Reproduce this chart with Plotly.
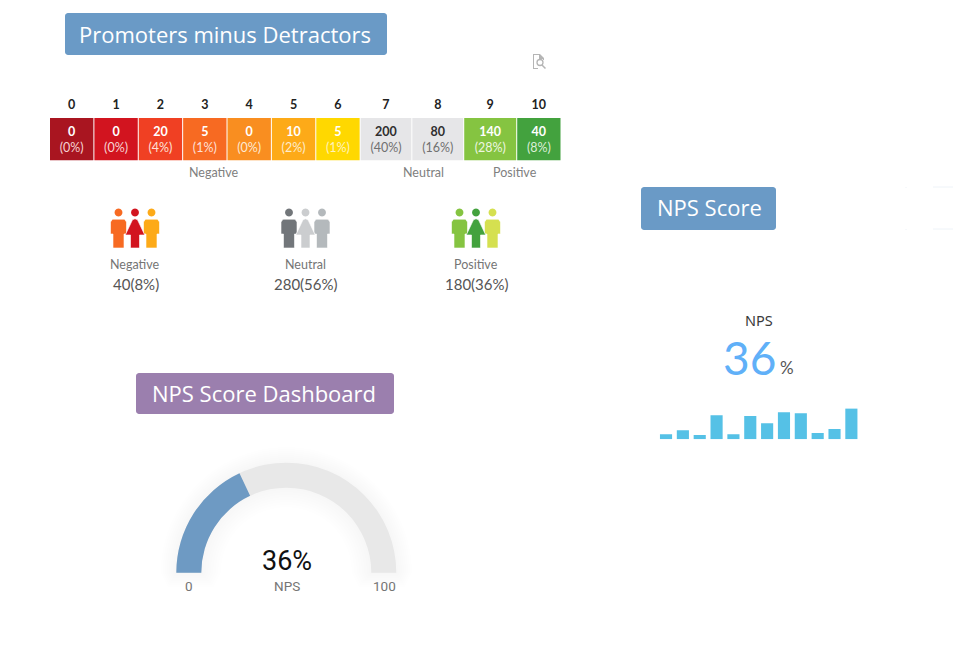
import math
import plotly.graph_objects as go

W, H = 953, 660

# ---- data ----
scores = ["0", "1", "2", "3", "4", "5", "6", "7", "8", "9", "10"]
counts = [0, 0, 20, 5, 0, 10, 5, 200, 80, 140, 40]
shares = [0, 0, 4, 1, 0, 2, 1, 40, 16, 28, 8]
groups = ["Negative", "Neutral", "Positive"]
group_counts = [40, 280, 180]
group_shares = [8, 56, 36]
nps_value = 36
gauge_range = [0, 100]
spark_values = [5, 9, 4.3, 24, 5, 23.3, 16, 27, 26, 6.3, 10.3, 30.7]

# ---- style / layout ----
cell_colors = ["#a91520", "#d2141f", "#f04023", "#f76a22", "#f98e20", "#fdaa18",
               "#ffd800", "#e6e6e8", "#e6e6e8", "#85c441", "#43a23e"]
cell_widths = [44.3, 44.3, 44.3, 44.3, 44.3, 44.3, 44.3, 51.6, 51.8, 52.9, 44.2]
head_colors = ["#ffffff"] * 7 + ["#2f2f2f"] * 2 + ["#ffffff"] * 2
pct_colors = ["#f6d3d3", "#f6d3d3", "#fde0d8", "#fde0d8", "#fde8d2", "#fdeccd",
              "#fff3bd", "#707070", "#707070", "#edf6e0", "#dcefd8"]
TXT = "Lato"


def px(x):
    return x / W


def py(y):
    return 1 - y / H


def path(points):
    return "M " + " L ".join(f"{px(x):.5f},{py(y):.5f}" for x, y in points) + " Z"


def rrect(x0, y0, x1, y1, r=3):
    pts = []
    for cx, cy, a0 in [(x1 - r, y0 + r, -90), (x1 - r, y1 - r, 0), (x0 + r, y1 - r, 90), (x0 + r, y0 + r, 180)]:
        for k in range(5):
            a = math.radians(a0 + k * 22.5)
            pts.append((cx + r * math.cos(a), cy + r * math.sin(a)))
    return path(pts)


def circle(cx, cy, r):
    return path([(cx + r * math.cos(i * math.pi / 12), cy + r * math.sin(i * math.pi / 12)) for i in range(24)])


def man(cx):
    return path([(cx - 8, 222), (cx - 6, 219.2), (cx + 6, 219.2), (cx + 8, 222), (cx + 8, 234), (cx + 5.5, 234),
                 (cx + 5.5, 248), (cx - 5.5, 248), (cx - 5.5, 234), (cx - 8, 234)])


def woman(cx):
    return path([(cx, 218.8), (cx + 2.5, 219.8), (cx + 9.7, 235), (cx + 4.5, 235), (cx + 4.5, 248), (cx - 4.5, 248),
                 (cx - 4.5, 235), (cx - 9.7, 235), (cx - 2.5, 219.8)])


shapes = []


def add(p, fill, line=None, lw=0):
    shapes.append(dict(type="path", xref="paper", yref="paper", path=p, fillcolor=fill,
                       line=dict(color=line or "rgba(0,0,0,0)", width=lw), layer="above"))


annots = []


def text(x, y, s, size, color="#666666", font=TXT, anchor="center"):
    annots.append(dict(xref="paper", yref="paper", x=px(x), y=py(y), text=s, showarrow=False,
                       xanchor=anchor, yanchor="middle",
                       font=dict(size=size, color=color, family=font)))


# title boxes
add(rrect(65, 13, 387, 55), "#6a9ac6")
text(225, 34, "Promoters minus Detractors", 22, "#ffffff", "Open Sans")
add(rrect(641, 187, 776, 230), "#6a9ac6")
text(709, 207, "NPS Score", 22, "#ffffff", "Open Sans")
add(rrect(136, 373, 394, 414), "#9b7fae")
text(263.5, 393, "NPS Score Dashboard", 22, "#ffffff", "Open Sans")

# faint crop marks, top right
for x0, y0, x1, y1 in [(933, 187, 953, 187), (933, 229, 953, 229), (906, 187, 906, 188), (906, 229, 906, 230)]:
    shapes.append(dict(type="line", xref="paper", yref="paper", x0=px(x0), y0=py(y0), x1=px(x1), y1=py(y1),
                       line=dict(color="#eef3f8", width=1)))

# report icon
icon = "#b5b5b5"
add(path([(533, 54), (540, 54), (544, 58), (544, 60), (543, 60), (543, 59), (539, 59), (539, 55), (534, 55), (534, 68),
          (538, 68), (538, 69), (533, 69)]), icon)
shapes.append(dict(type="circle", xref="paper", yref="paper", x0=px(537), x1=px(543), y0=py(59.5), y1=py(65.5),
                   line=dict(color=icon, width=1.3), fillcolor="rgba(0,0,0,0)"))
shapes.append(dict(type="line", xref="paper", yref="paper", x0=px(542), x1=px(545.5), y0=py(65), y1=py(68.5),
                   line=dict(color=icon, width=1.5)))

# people icons
people = [
    (135, ["#f76a22", "#d2141f", "#fdaa18"]),
    (305.5, ["#72767a", "#cbcdcf", "#b4b9bc"]),
    (476, ["#85c441", "#43a23e", "#d5e050"]),
]
for (cx, cols), name, n, s in zip(people, groups, group_counts, group_shares):
    add(man(cx - 16.5), cols[0], "#ffffff", 0.6)
    add(man(cx + 16.5), cols[2], "#ffffff", 0.6)
    add(woman(cx), cols[1], "#ffffff", 0.6)
    add(circle(cx - 16.5, 212.5, 3.9), cols[0])
    add(circle(cx, 212.5, 3.9), cols[1])
    add(circle(cx + 16.5, 212.5, 3.9), cols[2])
    text(cx - 0.5, 264.5, name, 12.5, "#757575")
    text(cx + 0.5, 283.5, f"{n}({s}%)", 15, "#555555")

# strip captions
text(214, 172, "Negative", 12.5, "#808080")
text(423, 172, "Neutral", 12.5, "#808080")
text(515, 172, "Positive", 12.5, "#808080")

# spark captions
text(759, 320, "NPS", 14.5, "#3a3a3a", "Noto Sans")
text(749, 357.5, str(nps_value), 46, "#60b0f8", TXT)
text(787, 367.5, "%", 17, "#555555", TXT)

# gauge captions
text(286.5, 561, f"{nps_value}%", 27, "#111111", "Roboto")
text(286.5, 586, "NPS", 13.5, "#757575", "Roboto")
text(188.5, 586, str(gauge_range[0]), 13.5, "#757575", "Roboto")
text(384, 586, str(gauge_range[1]), 13.5, "#757575", "Roboto")

# soft glow under gauge
GX, GY, RO, RI = 286.3, 572.7, 110, 85


def ring(ro, ri, drop):
    n = 48
    o = [(GX - ro * math.cos(i * math.pi / n), GY - ro * math.sin(i * math.pi / n)) for i in range(n + 1)]
    inner = [(GX + ri * math.cos(i * math.pi / n), GY - ri * math.sin(i * math.pi / n)) for i in range(n + 1)]
    return path(o + [(GX + ro - drop / 2, GY + drop), (GX + ri + drop / 2, GY + drop)] + inner +
                [(GX - ri - drop / 2, GY + drop), (GX - ro + drop / 2, GY + drop)])


for k in range(1, 9):
    shapes.append(dict(type="path", xref="paper", yref="paper", path=ring(RO + k * 2, RI - k * 2.5, k * 1.8),
                       fillcolor="rgba(0,0,0,0.005)", line=dict(width=0), layer="below"))

fig = go.Figure()

# NPS strip
lefts = [sum(cell_widths[:i]) for i in range(len(cell_widths))]
centers = [l + w / 2 for l, w in zip(lefts, cell_widths)]
fig.add_trace(go.Bar(
    x=centers, y=[1] * len(scores), width=[w - 1 for w in cell_widths],
    marker=dict(color=cell_colors, line=dict(width=0)),
    text=[f'<b><span style="color:{h}">{c}</span></b><br><span style="color:{p}">({s}%)</span>'
          for c, s, h, p in zip(counts, shares, head_colors, pct_colors)],
    textposition="inside", insidetextanchor="middle", textangle=0, constraintext="none",
    textfont=dict(size=12.5, family=TXT), hoverinfo="skip", showlegend=False,
    xaxis="x", yaxis="y"))

# sparkline
fig.add_trace(go.Bar(
    x=list(range(len(spark_values))), y=spark_values, width=0.72,
    marker=dict(color="#55c1e6", line=dict(width=0)), hoverinfo="skip", showlegend=False,
    xaxis="x2", yaxis="y2"))

# gauge
R = 111.43
fig.add_trace(go.Indicator(
    mode="gauge", value=nps_value,
    domain=dict(x=[px(GX - R), px(GX + R)], y=[py(GY), py(GY - R)]),
    gauge=dict(
        shape="angular",
        axis=dict(range=gauge_range, visible=False),
        bar=dict(color="#6e9ac3", thickness=0.897, line=dict(width=0)),
        bgcolor="rgba(0,0,0,0)", borderwidth=0,
        steps=[dict(range=gauge_range, color="#e8e8e8", thickness=0.897, line=dict(width=0))],
    )))

fig.update_layout(
    width=W, height=H, margin=dict(l=0, r=0, t=0, b=0, autoexpand=False),
    paper_bgcolor="#ffffff", plot_bgcolor="rgba(0,0,0,0)", showlegend=False,
    barmode="overlay",
    shapes=shapes, annotations=annots,
    xaxis=dict(domain=[px(49.5), px(561)], range=[0, sum(cell_widths)], side="top", anchor="y",
               tickmode="array", tickvals=centers, ticktext=[f"<b>{s}</b>" for s in scores],
               ticks="", showgrid=False, zeroline=False, showline=False,
               tickfont=dict(size=12.5, color="#222222", family=TXT), ticklabelstandoff=6),
    yaxis=dict(domain=[py(160.5), py(118)], range=[0, 1], visible=False, anchor="x"),
    xaxis2=dict(domain=[px(657.6), px(859.8)], range=[-0.5, 11.5], visible=False, anchor="y2"),
    yaxis2=dict(domain=[py(439.3), py(408.3)], range=[0, 31], visible=False, anchor="x2"),
)

fig.write_html("out.html", config=dict(displayModeBar=False),
               post_script="document.body.style.margin='0';document.body.style.overflow='hidden';")
